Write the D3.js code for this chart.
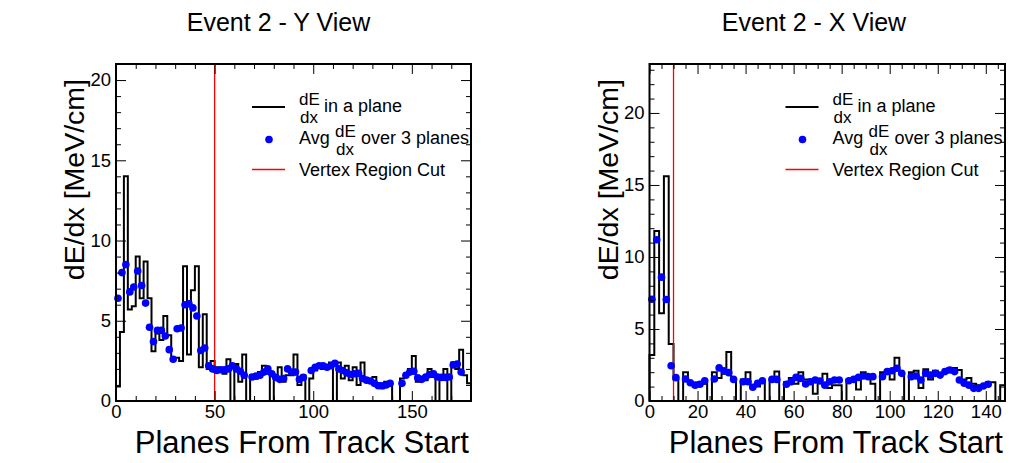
<!DOCTYPE html>
<html><head><meta charset="utf-8">
<script src="https://cdn.jsdelivr.net/npm/d3@7"></script>
<style>
body{margin:0;background:#fff}
svg{display:block}
text{font-family:"Liberation Sans",Arial,Helvetica,sans-serif;fill:#000}
</style>
</head><body>
<svg id="c" width="1027" height="463"></svg>
<script>
// ---------- data ----------
const binWidth = 2;
const titles = ["Event 2 - Y View", "Event 2 - X View"];
const yTitle = "dE/dx [MeV/cm]";
const xTitle = "Planes From Track Start";
const legendTexts = ["in a plane", "Avg", "over 3 planes", "Vertex Region Cut"];

// Y view
const leftXRange = [0, 180];
const leftYRange = [0, 21];
const leftXTicks = [0, 50, 100, 150];
const leftYTicks = [0, 5, 10, 15, 20];
const leftCut = 50;
const leftHist = [
 0.9, 4.3, 14.0, 5.7, 5.9, 9.0, 6.4, 8.7, 6.4, 3.1,
 4.2, 3.8, 5.3, 4.1, 2.7, 2.7, 2.5, 8.4, 2.9, 6.9,
 8.4, 2.1, 5.4, 2.0, 2.5, 2.1, 2.0, 1.7, 2.6, 0,
 2.3, 1.2, 2.9, 0, 1.6, 1.4, 1.8, 2.2, 1.7, 0,
 1.5, 2.1, 1.2, 1.6, 1.6, 2.9, 1.0, 1.6, 0, 1.4,
 1.9, 2.3, 2.0, 2.2, 2.4, 0, 2.4, 1.4, 2.2, 1.3,
 2.1, 1.0, 2.4, 1.4, 1.2, 1.5, 1.1, 0.8, 1.2, 1.0,
 0, 0, 1.4, 1.7, 2.0, 2.8, 1.2, 1.5, 1.3, 2.0,
 1.5, 0, 1.6, 2.0, 0, 2.4, 2.0, 3.2, 1.6, 1.1
];
const leftPointX = [
 1,3,5,7,9,11,13,15,17,19,21,23,25,27,29,31,33,35,37,39,41,43,45,47,49,51,53,55,57,59,61,63,65,
 69,71,73,75,77,79,81,83,85,87,89,91,93,95,
 99,101,103,105,107,109,111,113,115,117,119,121,123,125,127,129,131,133,135,137,139,
 145,147,149,151,153,155,157,159,161,163,165,167,169,171,173,175
];
const leftPointY = [
 6.4,8.0,8.5,6.8,7.1,8.1,7.2,6.1,4.6,3.7,4.4,4.4,4.05,3.2,2.6,4.5,4.55,6.0,6.05,5.8,5.3,3.15,3.3,2.2,2.0,1.9,1.95,1.95,2.0,2.2,2.0,1.85,1.6,
 1.5,1.55,1.6,1.8,2.0,1.7,1.47,1.35,1.4,2.0,1.8,1.8,1.35,1.47,
 1.9,2.1,2.2,2.2,2.1,2.2,2.35,2.0,1.9,1.75,1.65,1.7,1.72,1.4,1.3,1.25,1.1,0.95,0.95,1.0,1.1,
 1.1,1.6,1.8,1.85,1.45,1.35,1.5,1.65,1.7,1.5,1.47,1.47,1.5,2.25,2.3,1.8
];

// X view
const rightXRange = [0, 148];
const rightYRange = [0, 23.4];
const rightXTicks = [0, 20, 40, 60, 80, 100, 120, 140];
const rightYTicks = [0, 5, 10, 15, 20];
const rightCut = 10;
const rightHist = [
 3.2, 11.8, 6.1, 15.6, 3.95, 1.5, 0, 2.0, 1.3, 1.0,
 1.3, 1.2, 0, 2.0, 1.6, 1.9, 3.4, 1.5, 0, 1.5,
 2.0, 1.0, 1.0, 1.4, 0, 1.5, 2.05, 0, 1.3, 1.6,
 1.2, 2.0, 1.5, 1.5, 0.5, 1.5, 1.9, 0.9, 1.1, 1.1,
 0, 1.5, 1.5, 0.8, 2.0, 1.8, 1.2, 0, 2.0, 2.15,
 1.5, 3.0, 1.9, 0, 2.0, 2.1, 0.9, 2.2, 1.5, 2.1,
 1.8, 2.0, 2.3, 2.3, 2.15, 1.5, 1.6, 1.2, 1.1, 1.1,
 1.3, 1.3, 0, 1.1
];
const rightPointX = [
 1,3,5,7,9,11,15,17,19,21,23,27,29,31,33,35,39,41,43,45,47,51,53,
 57,59,61,63,65,67,69,71,73,75,77,79,83,85,87,89,91,93,97,99,101,103,105,
 109,111,113,115,117,119,121,123,125,127,129,131,133,135,137,139,141
];
const rightPointY = [
 7.06,11.2,8.6,7.05,2.45,1.62,1.53,1.27,1.1,1.16,1.41,1.53,2.3,2.1,1.97,1.5,1.34,1.34,0.95,1.23,1.41,1.5,1.5,
 1.16,1.34,1.64,1.57,1.18,1.34,1.46,1.39,1.1,1.34,1.46,1.46,1.41,1.5,1.64,1.74,1.69,1.69,1.69,2.04,2.1,2.27,1.92,
 1.69,1.74,1.46,1.92,1.8,1.92,1.8,2.04,2.15,2.04,1.46,1.23,1.1,0.88,0.88,1.04,1.16
];

// ---------- drawing ----------
const svg = d3.select("#c");
const FONT_TICK = 18.5;

function range(a, b, s) { const r = []; for (let v = a; v <= b + 1e-9; v += s) r.push(+v.toFixed(6)); return r; }

function panel(o) {
  const x = d3.scaleLinear().domain(o.xRange).range([o.fx0, o.fx1]);
  const y = d3.scaleLinear().domain(o.yRange).range([o.fy1, o.fy0]);
  const g = svg.append("g");

  // title
  g.append("text").attr("x", o.titleX).attr("y", 31).attr("text-anchor", "middle")
    .style("font-size", "25px").text(o.title);

  // histogram step outline
  const steps = [[o.xRange[0], 0]];
  o.hist.forEach((v, i) => {
    steps.push([o.xRange[0] + i * binWidth, v]);
    steps.push([o.xRange[0] + (i + 1) * binWidth, v]);
  });
  steps.push([o.xRange[0] + o.hist.length * binWidth, 0]);
  g.append("path")
    .attr("d", d3.line().x(d => x(d[0])).y(d => y(d[1]))(steps))
    .attr("fill", "none").attr("stroke", "#000").attr("stroke-width", 2)
    .attr("stroke-linejoin", "miter");

  // vertex cut line
  g.append("line").attr("x1", x(o.cut)).attr("x2", x(o.cut))
    .attr("y1", y(o.yRange[0])).attr("y2", y(o.yRange[1]))
    .attr("stroke", "#ff0000").attr("stroke-width", 1.3);

  // points
  g.append("g").selectAll("circle").data(o.px.map((u, i) => [u, o.py[i]])).join("circle")
    .attr("cx", d => x(d[0])).attr("cy", d => y(d[1])).attr("r", 3.8).attr("fill", "#0000ff");

  // axes (ticks inward, mirrored)
  const minorX = range(o.xRange[0], o.xRange[1], o.xMinor).filter(v => !o.xTicks.includes(v));
  const minorY = range(o.yRange[0], Math.floor(o.yRange[1]), 1).filter(v => !o.yTicks.includes(v));
  const styleAxis = sel => {
    sel.select(".domain").remove();
    sel.selectAll("line").attr("stroke", "#000").attr("stroke-width", 1);
    sel.selectAll("text").style("font-size", FONT_TICK + "px").style("font-family", "'Liberation Sans',Arial,sans-serif");
  };
  g.append("g").attr("transform", `translate(0,${o.fy1})`)
    .call(d3.axisBottom(x).tickValues(o.xTicks).tickSizeInner(-10).tickSizeOuter(0).tickPadding(4).tickFormat(d3.format("d")))
    .call(styleAxis);
  g.append("g").attr("transform", `translate(0,${o.fy1})`)
    .call(d3.axisBottom(x).tickValues(minorX).tickSizeInner(-5).tickSizeOuter(0).tickFormat(""))
    .call(styleAxis);
  g.append("g").attr("transform", `translate(0,${o.fy0})`)
    .call(d3.axisTop(x).tickValues(o.xTicks).tickSizeInner(-10).tickSizeOuter(0).tickFormat(""))
    .call(styleAxis);
  g.append("g").attr("transform", `translate(0,${o.fy0})`)
    .call(d3.axisTop(x).tickValues(minorX).tickSizeInner(-5).tickSizeOuter(0).tickFormat(""))
    .call(styleAxis);
  g.append("g").attr("transform", `translate(${o.fx0},0)`)
    .call(d3.axisLeft(y).tickValues(o.yTicks).tickSizeInner(-10).tickSizeOuter(0).tickPadding(5).tickFormat(d3.format("d")))
    .call(styleAxis);
  g.append("g").attr("transform", `translate(${o.fx0},0)`)
    .call(d3.axisLeft(y).tickValues(minorY).tickSizeInner(-5).tickSizeOuter(0).tickFormat(""))
    .call(styleAxis);
  g.append("g").attr("transform", `translate(${o.fx1},0)`)
    .call(d3.axisRight(y).tickValues(o.yTicks).tickSizeInner(-10).tickSizeOuter(0).tickFormat(""))
    .call(styleAxis);
  g.append("g").attr("transform", `translate(${o.fx1},0)`)
    .call(d3.axisRight(y).tickValues(minorY).tickSizeInner(-5).tickSizeOuter(0).tickFormat(""))
    .call(styleAxis);

  // frame
  g.append("rect").attr("x", o.fx0).attr("y", o.fy0).attr("width", o.fx1 - o.fx0).attr("height", o.fy1 - o.fy0)
    .attr("fill", "none").attr("stroke", "#000").attr("stroke-width", 2);

  // axis titles
  g.append("text").attr("x", o.fx1 - 2).attr("y", 453).attr("text-anchor", "end")
    .style("font-size", "31px").text(xTitle);
  g.append("text").attr("transform", `translate(${o.fx0 - 32},${o.fy0 + 15}) rotate(-90)`)
    .attr("text-anchor", "end").style("font-size", "28.5px").text(yTitle);

  // legend
  const lx = o.fx0;
  const L = g.append("g");
  L.append("line").attr("x1", lx + 136).attr("x2", lx + 169).attr("y1", 107).attr("y2", 107)
    .attr("stroke", "#000").attr("stroke-width", 2);
  L.append("text").attr("x", lx + 183).attr("y", 105).style("font-size", "17px").text("dE");
  L.append("text").attr("x", lx + 184).attr("y", 123).style("font-size", "17px").text("dx");
  L.append("text").attr("x", lx + 208).attr("y", 112).style("font-size", "18px").text(legendTexts[0]);

  L.append("circle").attr("cx", lx + 153).attr("cy", 139.5).attr("r", 3.8).attr("fill", "#0000ff");
  L.append("text").attr("x", lx + 183).attr("y", 143.5).style("font-size", "18px").text(legendTexts[1]);
  L.append("text").attr("x", lx + 219).attr("y", 137).style("font-size", "17px").text("dE");
  L.append("text").attr("x", lx + 220).attr("y", 155).style("font-size", "17px").text("dx");
  L.append("text").attr("x", lx + 245).attr("y", 143.5).style("font-size", "18px").text(legendTexts[2]);

  L.append("line").attr("x1", lx + 136).attr("x2", lx + 169).attr("y1", 169.5).attr("y2", 169.5)
    .attr("stroke", "#ff0000").attr("stroke-width", 1.5);
  L.append("text").attr("x", lx + 183).attr("y", 175.5).style("font-size", "18px").text(legendTexts[3]);
}

panel({
  title: titles[0], titleX: 278.5,
  fx0: 116, fx1: 471, fy0: 64, fy1: 401,
  xRange: leftXRange, yRange: leftYRange, xTicks: leftXTicks, yTicks: leftYTicks, xMinor: 10,
  hist: leftHist, px: leftPointX, py: leftPointY, cut: leftCut
});
panel({
  title: titles[1], titleX: 814,
  fx0: 649.5, fx1: 1005, fy0: 64, fy1: 401,
  xRange: rightXRange, yRange: rightYRange, xTicks: rightXTicks, yTicks: rightYTicks, xMinor: 5,
  hist: rightHist, px: rightPointX, py: rightPointY, cut: rightCut
});
</script>
</body></html>
